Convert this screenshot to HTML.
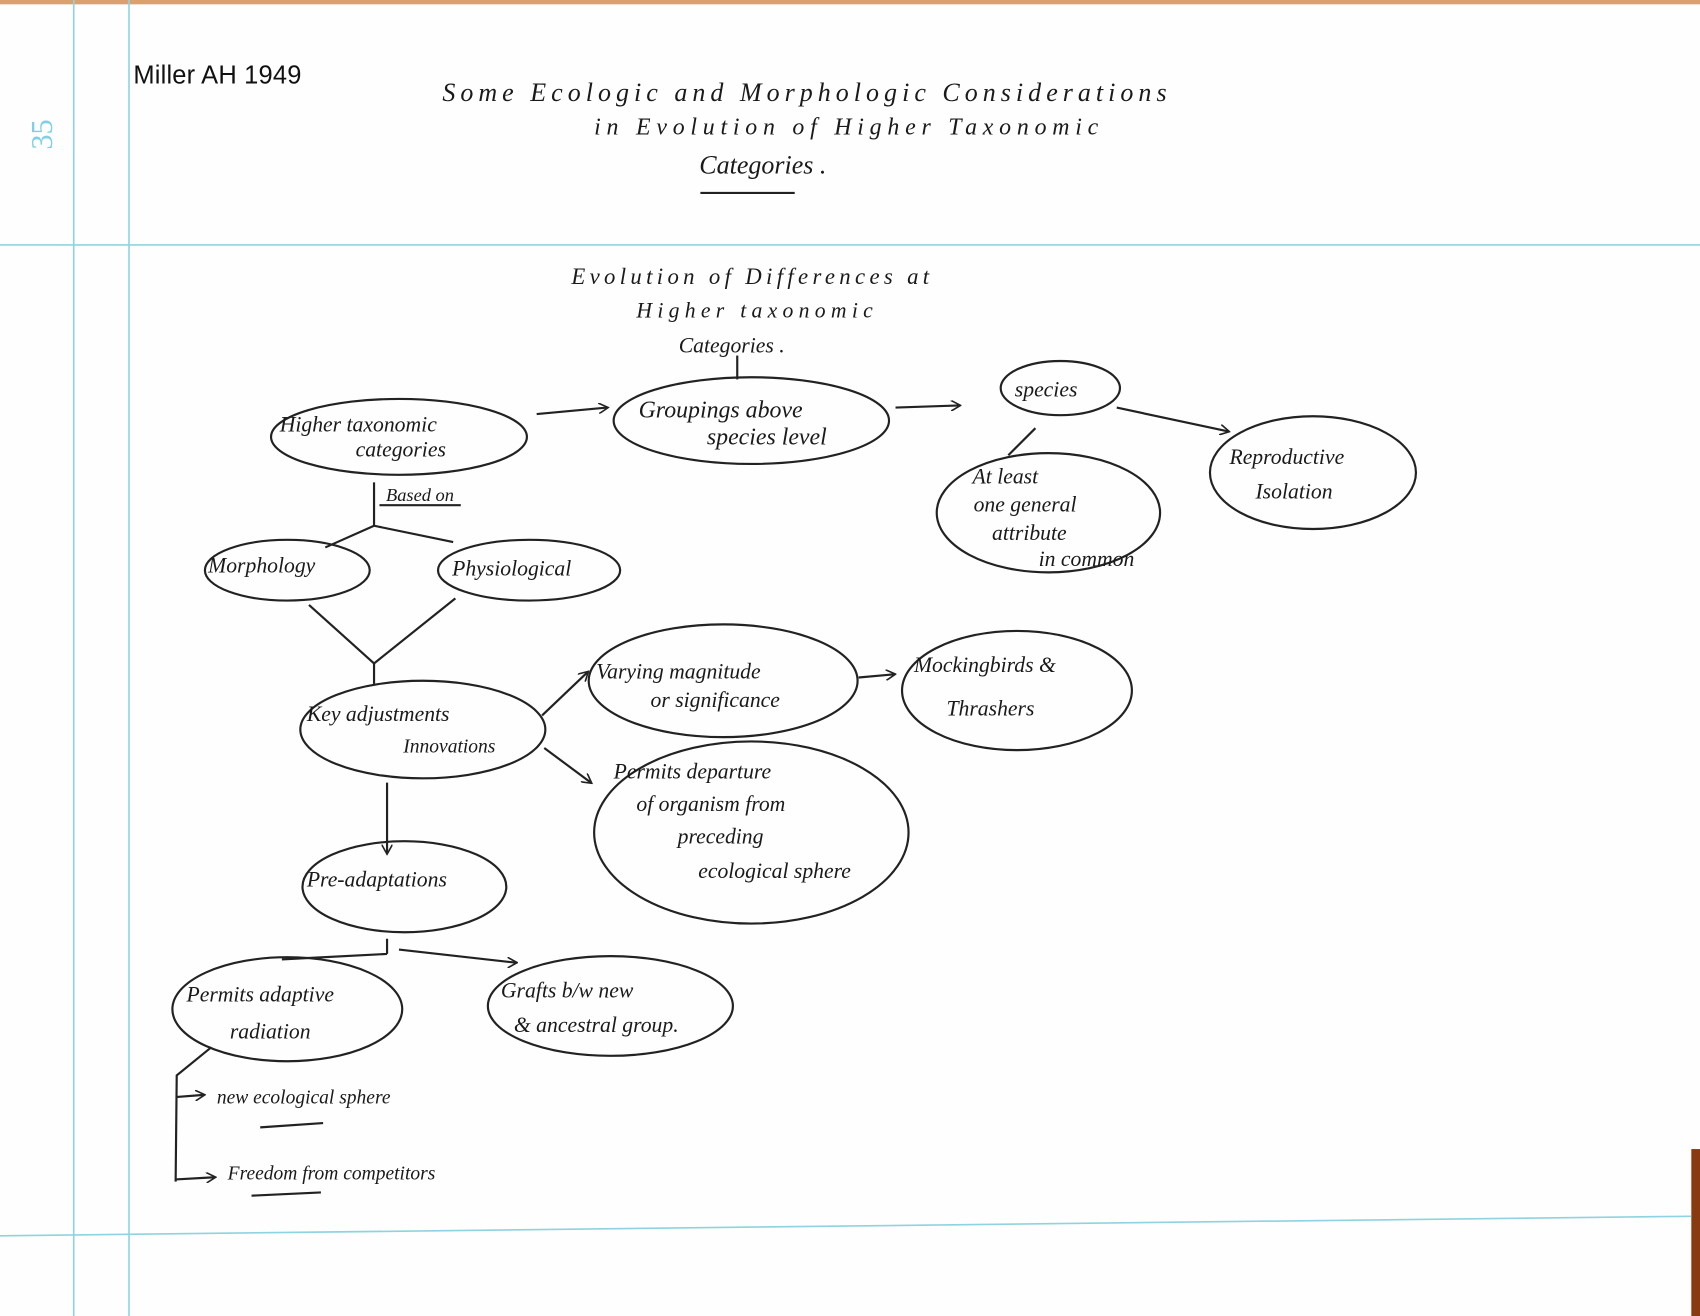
<!DOCTYPE html>
<html><head><meta charset="utf-8"><style>
html,body{margin:0;padding:0;background:#fff;}
svg{display:block}
text{font-family:"Liberation Serif",serif;font-style:italic;fill:#1a1a1a}
</style></head><body>
<svg width="1700" height="1316" viewBox="0 0 1568 1214" preserveAspectRatio="none" xmlns="http://www.w3.org/2000/svg">
<defs><marker id="a" markerWidth="10" markerHeight="10" refX="8" refY="5" orient="auto" markerUnits="userSpaceOnUse"><path d="M0,0 L9,5 L0,10" fill="none" stroke="#222" stroke-width="1.5"/></marker></defs>
<rect width="1568" height="1214" fill="#fefefe"/>
<rect x="0" y="0" width="1568" height="4" fill="#d9a070"/>
<rect x="1560" y="1060" width="8" height="160" fill="#8a3a10"/>
<g stroke="#8fd3e0" stroke-width="1.5">
<line x1="68" y1="0" x2="68" y2="1214"/><line x1="119" y1="0" x2="119" y2="1214"/>
<line x1="0" y1="226" x2="1568" y2="226"/><line x1="0" y1="1140" x2="1560" y2="1122"/>
</g>
<text x="60" y="150" transform="rotate(-90 48 150)" style="font-style:normal;fill:#7fd0e6;font-size:28px">35</text>
<text x="123" y="77" style="font-family:'Liberation Sans',sans-serif;font-style:normal;font-size:23.5px;fill:#111" textLength="155">Miller AH 1949</text>
<text x="408" y="93" font-size="24" textLength="668">Some Ecologic and Morphologic  Considerations</text>
<text x="548" y="124" font-size="22" textLength="465">in  Evolution of Higher Taxonomic</text>
<text x="645" y="160" font-size="24">Categories .</text>
<line x1="646" y1="178" x2="733" y2="178" stroke="#222" stroke-width="2"/>
<text x="527" y="262" font-size="21" textLength="330">Evolution of Differences at</text>
<text x="587" y="293" font-size="20" textLength="218">Higher taxonomic</text>
<text x="626" y="325" font-size="20">Categories .</text>
<line x1="680" y1="328" x2="680" y2="350" stroke="#222" stroke-width="2"/>
<g fill="none" stroke="#222" stroke-width="2">
<ellipse cx="368" cy="403" rx="118" ry="35"/>
<ellipse cx="693" cy="388" rx="127" ry="40"/>
<ellipse cx="978" cy="358" rx="55" ry="25"/>
<ellipse cx="967" cy="473" rx="103" ry="55"/>
<ellipse cx="1211" cy="436" rx="95" ry="52"/>
<ellipse cx="265" cy="526" rx="76" ry="28"/>
<ellipse cx="488" cy="526" rx="84" ry="28"/>
<ellipse cx="390" cy="673" rx="113" ry="45"/>
<ellipse cx="667" cy="628" rx="124" ry="52"/>
<ellipse cx="938" cy="637" rx="106" ry="55"/>
<ellipse cx="693" cy="768" rx="145" ry="84"/>
<ellipse cx="373" cy="818" rx="94" ry="42"/>
<ellipse cx="265" cy="931" rx="106" ry="48"/>
<ellipse cx="563" cy="928" rx="113" ry="46"/>
<path d="M495,382 L560,376" marker-end="url(#a)"/>
<path d="M826,376 L885,374" marker-end="url(#a)"/>
<path d="M1030,376 L1133,398" marker-end="url(#a)"/>
<path d="M955,395 L930,420"/>
<path d="M345,445 L345,485 M345,485 L300,505 M345,485 L418,500"/>
<path d="M285,558 L345,612 L420,552 M345,612 L345,632" />
<path d="M500,660 L542,620" marker-end="url(#a)"/>
<path d="M792,625 L825,622" marker-end="url(#a)"/>
<path d="M502,690 L545,722" marker-end="url(#a)"/>
<path d="M357,722 L357,787" marker-end="url(#a)"/>
<path d="M357,866 L357,880 M260,885 L357,880 M368,876 L475,888"/>
<path d="M474,888 L476,888" marker-end="url(#a)"/>
<path d="M195,966 L163,992 L162,1090"/>
<path d="M162,1012 L188,1010" marker-end="url(#a)"/>
<path d="M162,1088 L198,1086" marker-end="url(#a)"/>
<line x1="350" y1="466" x2="425" y2="466"/>
<line x1="240" y1="1040" x2="298" y2="1036"/>
<line x1="232" y1="1103" x2="296" y2="1100"/>
</g>
<g font-size="20">
<text x="258" y="398">Higher taxonomic</text>
<text x="328" y="421">categories</text>
<text x="356" y="462" font-size="17">Based on</text>
<text x="589" y="385" font-size="22">Groupings above</text>
<text x="652" y="410" font-size="22">species level</text>
<text x="936" y="366">species</text>
<text x="897" y="446">At least</text>
<text x="898" y="472">one general</text>
<text x="915" y="498">attribute</text>
<text x="958" y="522">in common</text>
<text x="1134" y="428">Reproductive</text>
<text x="1158" y="460">Isolation</text>
<text x="192" y="528">Morphology</text>
<text x="417" y="531">Physiological</text>
<text x="283" y="665">Key adjustments</text>
<text x="372" y="694" font-size="18">Innovations</text>
<text x="550" y="626">Varying magnitude</text>
<text x="600" y="652">or significance</text>
<text x="843" y="620">Mockingbirds &amp;</text>
<text x="873" y="660">Thrashers</text>
<text x="566" y="718">Permits departure</text>
<text x="587" y="748">of organism from</text>
<text x="625" y="778">preceding</text>
<text x="644" y="810">ecological sphere</text>
<text x="283" y="818">Pre-adaptations</text>
<text x="172" y="924">Permits adaptive</text>
<text x="212" y="958">radiation</text>
<text x="462" y="920">Grafts b/w new</text>
<text x="474" y="952">&amp; ancestral group.</text>
<text x="200" y="1018" font-size="18">new ecological sphere</text>
<text x="210" y="1088" font-size="18">Freedom from competitors</text>
</g>
</svg>
</body></html>
